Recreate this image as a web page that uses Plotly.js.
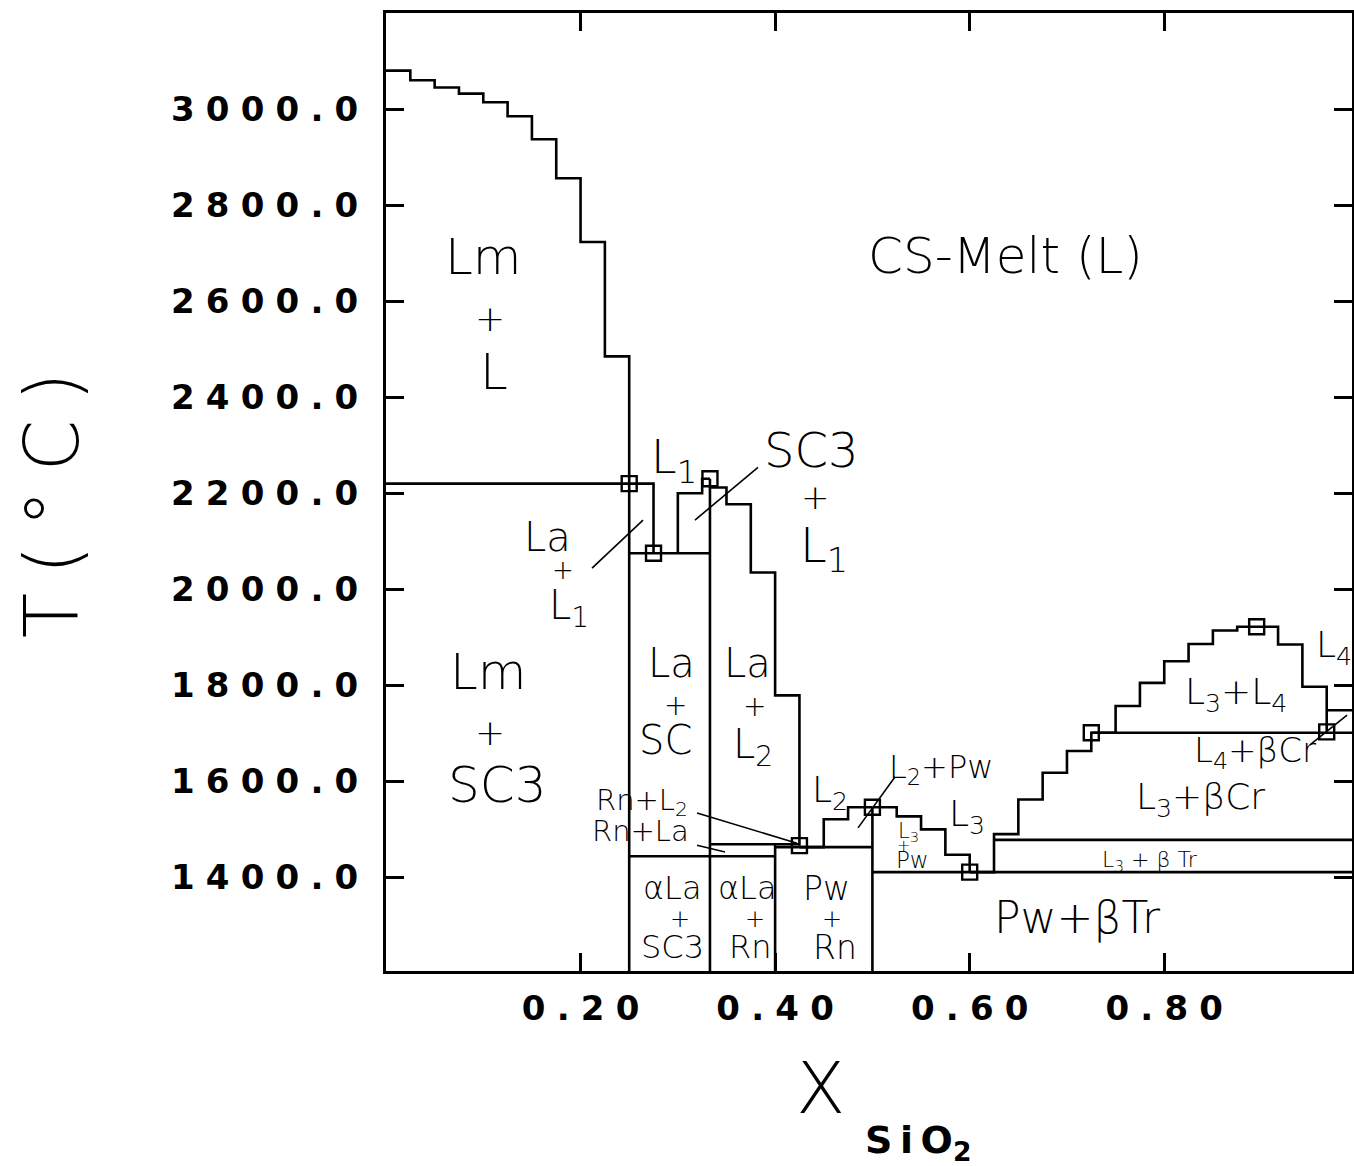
<!DOCTYPE html>
<html>
<head>
<meta charset="utf-8">
<script src="https://cdn.plot.ly/plotly-3.0.1.min.js"></script>
<style>html,body{margin:0;padding:0;background:#fff;}#chart{width:1354px;height:1166px;}</style>
</head>
<body>
<div id="chart"></div>
<script>
// ---------- DATA (mole fraction SiO2, temperature in °C) ----------
// Lm liquidus (stepped, left)
const lmLiqX = [0, 0.025, 0.05, 0.075, 0.1, 0.125, 0.15, 0.175, 0.2, 0.225, 0.25];
const lmLiqT = [3080, 3060, 3045, 3032, 3014, 2985, 2937, 2856, 2723, 2485, 2220];
// L1 boundary (Lm+SC3 invariant line then drop to La+SC eutectic)
const l1LeftX = [0, 0.275, 0.275];
const l1LeftT = [2220, 2220, 2075];
// La + SC eutectic line
const eut2075X = [0.25, 0.333];
const eut2075T = [2075, 2075];
// SC3 + L1 boundary (vh steps)
const sc3L1X = [0.30, 0.325, 0.333];
const sc3L1T = [2075, 2200, 2230];
// La liquidus (hv steps, right of La)
const laLiqX = [0.333, 0.35, 0.375, 0.40, 0.425];
const laLiqT = [2212, 2177, 2035, 1779, 1466];
// Compounds: SC3, La, Rn, Pw (vertical lines, top temperature)
const compX = [0.25, 0.333, 0.40, 0.50];
const compTopT = [2220, 2230, 1469, 1546];
const compBottomT = 1200;
// Rn + La band
const rnLaLowX = [0.25, 0.40];
const rnLaLowT = [1444, 1444];
const rnLaHighX = [0.333, 0.425];
const rnLaHighT = [1469, 1469];
// Pw + Rn top
const pwRnTopX = [0.40, 0.50];
const pwRnTopT = [1463, 1463];
// L2 + Pw liquidus (hv)
const l2PwX = [0.425, 0.45, 0.475, 0.50];
const l2PwT = [1463, 1521, 1546, 1546];
// L3 liquidus on Pw side (hv)
const l3PwX = [0.50, 0.525, 0.55, 0.575, 0.60];
const l3PwT = [1546, 1527, 1500, 1447, 1411];
// Pw + beta-Tr top line
const pwTrX = [0.50, 1.0];
const pwTrT = [1411, 1411];
// L3 liquidus and L3+L4 dome (hv)
const domeX = [0.60, 0.625, 0.65, 0.675, 0.70, 0.725, 0.75, 0.775, 0.80, 0.825, 0.85, 0.875, 0.917, 0.942, 0.967];
const domeT = [1411, 1490, 1562, 1618, 1663, 1701, 1757, 1805, 1850, 1886, 1914, 1922, 1885, 1797, 1703];
// L4 liquidus (beta-Cr)
const l4LiqX = [0.967, 1.0];
const l4LiqT = [1748, 1748];
// L3 + beta-Cr top
const crTopX = [0.725, 1.0];
const crTopT = [1701, 1701];
// L3 + beta-Tr top
const trTopX = [0.625, 1.0];
const trTopT = [1478, 1478];
// Invariant points (squares)
const invX = [0.25, 0.275, 0.333, 0.425, 0.50, 0.60, 0.725, 0.895, 0.967];
const invT = [2220, 2075, 2230, 1466, 1546, 1411, 1701, 1922, 1703];

// Axis ticks
const xTickVals = [0.2, 0.4, 0.6, 0.8];
const xTickText = ['0.20', '0.40', '0.60', '0.80'];
const yTickVals = [1400, 1600, 1800, 2000, 2200, 2400, 2600, 2800, 3000];
const yTickText = ['1400.0', '1600.0', '1800.0', '2000.0', '2200.0', '2400.0', '2600.0', '2800.0', '3000.0'];

// Region labels: [text, x, T, size]
const labels = [
  ['Lm', 0.1007, 2692, 50], ['+', 0.1069, 2563, 36], ['L', 0.1110, 2452, 50],
  ['CS-Melt (L)', 0.6373, 2694, 50],
  ['Lm', 0.1049, 1828, 50], ['+', 0.1069, 1701, 36], ['SC3', 0.1141, 1592, 50],
  ['L<sub>1</sub>', 0.2960, 2268, 46],
  ['La', 0.1665, 2109, 40], ['+', 0.1820, 2040, 26], ['L<sub>1</sub>', 0.1880, 1960, 40],
  ['SC3', 0.4379, 2290, 48], ['+', 0.4410, 2192, 34], ['L<sub>1</sub>', 0.4500, 2085, 48],
  ['La', 0.2930, 1846, 40], ['+', 0.2981, 1757, 28], ['SC', 0.2868, 1686, 40],
  ['La', 0.3711, 1846, 40], ['+', 0.3793, 1755, 28], ['L<sub>2</sub>', 0.3770, 1672, 40],
  ['Rn+L<sub>2</sub>', 0.2630, 1557, 29], ['Rn+La', 0.2611, 1497, 29],
  ['L<sub>2</sub>', 0.4560, 1576, 36],
  ['L<sub>2</sub>+Pw', 0.5710, 1626, 32],
  ['L<sub>3</sub>', 0.5970, 1526, 36],
  ['L<sub>3</sub>', 0.5370, 1494, 21], ['+', 0.5315, 1466, 16], ['Pw', 0.5407, 1436, 23],
  ['αLa', 0.2950, 1378, 32], ['+', 0.3022, 1313, 24], ['SC3', 0.2950, 1255, 32],
  ['αLa', 0.3711, 1378, 32], ['+', 0.3793, 1313, 24], ['Rn', 0.3742, 1255, 32],
  ['Pw', 0.4533, 1376, 33], ['+', 0.4585, 1313, 24], ['Rn', 0.4616, 1253, 33],
  ['L<sub>3</sub>+L<sub>4</sub>', 0.8738, 1780, 36],
  ['L<sub>4</sub>', 0.9740, 1878, 36],
  ['L<sub>4</sub>+βCr', 0.8933, 1661, 34],
  ['L<sub>3</sub>+βCr', 0.8368, 1563, 36],
  ['L<sub>3</sub> + β Tr', 0.7854, 1434, 22],
  ['Pw+βTr', 0.7113, 1317, 44]
];
// Leader lines: [x0, T0, x1, T1]
const leaders = [
  [0.2118, 2044, 0.2642, 2144],
  [0.3176, 2144, 0.3824, 2254],
  [0.3197, 1534, 0.4225, 1471],
  [0.3197, 1467, 0.3485, 1453],
  [0.5232, 1609, 0.4852, 1503],
  [0.9498, 1676, 0.9879, 1738]
];

// ---------- BUILD ----------
const LW = 2.6;
const blk = '#000';
function ln(x, y, shape) {
  return {x: x, y: y, mode: 'lines', type: 'scatter', hoverinfo: 'skip',
          line: {color: blk, width: LW, shape: shape || 'linear'}};
}
const traces = [
  ln(lmLiqX, lmLiqT, 'hv'),
  ln(l1LeftX, l1LeftT),
  ln(eut2075X, eut2075T),
  ln(sc3L1X, sc3L1T, 'vh'),
  ln(laLiqX, laLiqT, 'hv'),
  ln(rnLaLowX, rnLaLowT),
  ln(rnLaHighX, rnLaHighT),
  ln(pwRnTopX, pwRnTopT),
  ln(l2PwX, l2PwT, 'hv'),
  ln(l3PwX, l3PwT, 'hv'),
  ln(pwTrX, pwTrT),
  ln(domeX, domeT, 'hv'),
  ln(l4LiqX, l4LiqT),
  ln(crTopX, crTopT),
  ln(trTopX, trTopT)
];
compX.forEach((cx, i) => traces.push(ln([cx, cx], [compBottomT, compTopT[i]])));
traces.push({x: invX, y: invT, mode: 'markers', type: 'scatter', hoverinfo: 'skip',
  marker: {symbol: 'square-open', size: 15, color: blk, line: {color: blk, width: 2.4}}});

const sp = '\u2004';
const spaced = s => s.split('').join(sp);
const labelFont = {family: 'DejaVu Sans', color: blk, weight: 300};
const annotations = labels.map(l => ({
  x: l[1], y: l[2], xref: 'x', yref: 'y', text: l[0], showarrow: false,
  font: Object.assign({}, labelFont, {size: l[3]}), xanchor: 'center', yanchor: 'middle'
}));
annotations.push({xref: 'paper', yref: 'paper', x: -0.3458, y: 0.4864, text: 'T\u2005(\u2005°\u2005C\u2005)',
  textangle: -90, showarrow: false, xanchor: 'center', yanchor: 'middle',
  font: {family: 'DejaVu Sans', size: 74, color: blk, weight: 300}});
annotations.push({xref: 'paper', yref: 'paper', x: 0.4493, y: -0.1221, text: 'X',
  showarrow: false, xanchor: 'center', yanchor: 'middle',
  font: {family: 'DejaVu Sans', size: 72, color: blk, weight: 300}});
annotations.push({xref: 'paper', yref: 'paper', x: 0.5507, y: -0.1795, text: 'S\u2009i\u2009O<sub>2</sub>',
  showarrow: false, xanchor: 'center', yanchor: 'middle',
  font: {family: 'DejaVu Sans', size: 38, color: blk, weight: 'bold'}});

const shapes = leaders.map(d => ({type: 'line', xref: 'x', yref: 'y',
  x0: d[0], y0: d[1], x1: d[2], y1: d[3], line: {color: blk, width: 1.6}}));

const tickFont = {family: 'DejaVu Sans', size: 34, color: blk, weight: 'bold'};
const layout = {
  width: 1354, height: 1166,
  margin: {l: 386, r: 2, t: 13, b: 195},
  paper_bgcolor: '#fff', plot_bgcolor: '#fff',
  showlegend: false,
  xaxis: {range: [0, 0.993], showgrid: false, zeroline: false, showline: true, mirror: 'ticks',
    linecolor: blk, linewidth: 3, ticks: 'inside', ticklen: 18, tickwidth: 3, tickcolor: blk,
    tickvals: xTickVals, ticktext: xTickText.map(spaced), tickfont: tickFont, ticklabelstandoff: 5},
  yaxis: {range: [1205, 3200], showgrid: false, zeroline: false, showline: true, mirror: 'ticks',
    linecolor: blk, linewidth: 3, ticks: 'inside', ticklen: 18, tickwidth: 3, tickcolor: blk,
    tickvals: yTickVals, ticktext: yTickText.map(spaced), tickfont: tickFont, ticklabelstandoff: 18},
  annotations: annotations,
  shapes: shapes
};
Plotly.newPlot('chart', traces, layout, {staticPlot: true, displayModeBar: false});
</script>
</body>
</html>
